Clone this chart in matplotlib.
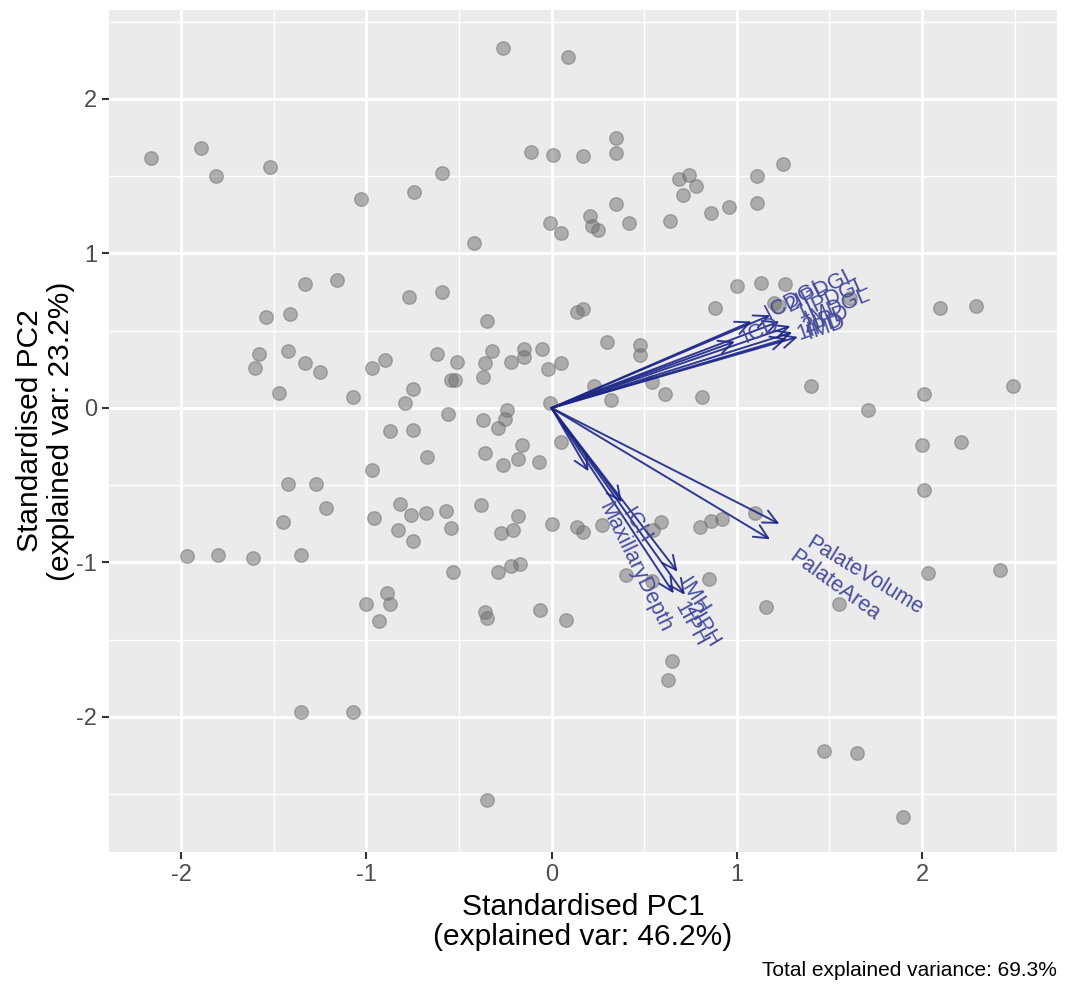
import matplotlib
matplotlib.use("Agg")
import matplotlib.pyplot as plt
import numpy as np

plt.rcParams["font.family"] = ["Liberation Sans", "DejaVu Sans"]
plt.rcParams["axes.unicode_minus"] = False

# ---- PCA scores (standardised PC1 / PC2) ----
pc1 = [-2.16, -1.89, -1.81, -1.52, -1.03, -0.74, -1.33, -1.16, -0.77, -1.54,
       -1.41, -1.58, -1.60, -1.42, -1.33, -1.25, -0.97, -0.90, -1.47, -1.07,
       -0.75, -0.79, -0.87, -0.75, -0.67, -0.97, -1.42, -1.27, -1.22, -1.45,
       -0.82, -0.96, -0.76, -0.68, -0.83, -0.75, -1.97, -1.80, -1.61, -1.35,
       -0.89, -1.00, -0.87, -0.93, -1.35, -1.07,
       -0.26, 0.09, 0.35, -0.11, 0.01, 0.17, 0.35, -0.59, 0.69, 0.74,
       0.78, 0.71, 0.86, 0.96, 0.35, -0.01, 0.05, 0.21, 0.22, 0.25,
       0.42, 0.64, -0.42, 1.00, -0.59, 0.88, 0.14, 0.17, -0.35, 0.30,
       0.48, 0.48, -0.62, -0.51, -0.32, -0.36, -0.22, -0.15, -0.15, -0.05,
       -0.02, 0.05, -0.54, -0.52, -0.37, 0.23, 0.54, 0.61, 0.81, 0.32,
       -0.01, -0.56, -0.37, -0.24, -0.25, -0.29, 0.05, -0.16, -0.18, -0.36,
       -0.26, -0.07, -0.57, -0.54, -0.38, -0.18, -0.27, -0.21, 0.00, 0.14,
       0.17, 0.27, 0.55, 0.59, 0.80, 0.86, 0.92, -0.53, -0.29, -0.22,
       -0.17, 0.40, 0.54, 0.85, -0.36, -0.35, -0.06, 0.08, 0.65, 0.63,
       -0.35,
       1.25, 1.11, 1.11, 1.13, 1.26, 1.20, 1.23, 1.61, 2.10, 2.29,
       1.40, 2.01, 1.71, 2.49, 2.00, 2.21, 2.01, 1.10, 1.16, 1.55,
       2.03, 2.42, 1.47, 1.65, 1.90]
pc2 = [1.62, 1.68, 1.50, 1.56, 1.35, 1.40, 0.80, 0.83, 0.72, 0.59,
       0.61, 0.35, 0.26, 0.37, 0.29, 0.23, 0.26, 0.31, 0.10, 0.07,
       0.12, 0.03, -0.15, -0.14, -0.32, -0.40, -0.49, -0.49, -0.65, -0.74,
       -0.62, -0.71, -0.69, -0.68, -0.79, -0.86, -0.96, -0.95, -0.97, -0.95,
       -1.20, -1.27, -1.27, -1.38, -1.97, -1.97,
       2.33, 2.27, 1.75, 1.66, 1.64, 1.63, 1.65, 1.52, 1.48, 1.51,
       1.44, 1.38, 1.26, 1.30, 1.32, 1.20, 1.13, 1.24, 1.18, 1.15,
       1.20, 1.21, 1.07, 0.79, 0.75, 0.65, 0.62, 0.64, 0.56, 0.43,
       0.41, 0.34, 0.35, 0.30, 0.37, 0.29, 0.30, 0.38, 0.33, 0.38,
       0.25, 0.29, 0.18, 0.18, 0.20, 0.14, 0.17, 0.09, 0.07, 0.05,
       0.03, -0.04, -0.08, -0.01, -0.07, -0.13, -0.22, -0.24, -0.33, -0.29,
       -0.37, -0.35, -0.67, -0.78, -0.63, -0.70, -0.81, -0.79, -0.75, -0.77,
       -0.80, -0.76, -0.79, -0.74, -0.77, -0.73, -0.72, -1.06, -1.06, -1.02,
       -1.01, -1.08, -1.12, -1.11, -1.32, -1.36, -1.31, -1.37, -1.64, -1.76,
       -2.54,
       1.58, 1.50, 1.33, 0.81, 0.80, 0.68, 0.66, 0.71, 0.65, 0.66,
       0.14, 0.09, -0.01, 0.14, -0.24, -0.22, -0.53, -0.68, -1.29, -1.27,
       -1.07, -1.05, -2.22, -2.23, -2.65]

# ---- variable loadings (arrows) ----
var_names = ["ICD", "ICDGL", "2IPDGL", "1IPDGL", "IMDGL", "2IPD", "1IPD", "IMD",
             "ICH", "IMH", "1IPH", "2IPH", "MaxillaryDepth",
             "PalateVolume", "PalateArea"]
load1 = [0.99, 1.08, 1.18, 1.23, 1.29, 1.30, 1.27, 1.33,
         0.38, 0.68, 0.66, 0.72, 0.20,
         1.23, 1.18]
load2 = [0.43, 0.56, 0.60, 0.56, 0.53, 0.49, 0.45, 0.46,
         -0.61, -1.06, -1.20, -1.21, -0.41,
         -0.75, -0.85]

x_ticks = [-2, -1, 0, 1, 2]
y_ticks = [-2, -1, 0, 1, 2]
x_title = ["Standardised PC1", "(explained var: 46.2%)"]
y_title = ["Standardised PC2", "(explained var: 23.2%)"]
caption = "Total explained variance: 69.3%"

W, H = 1073, 984
fig = plt.figure(figsize=(W / 100, H / 100), dpi=100)
L, R, T, B = 109, 1057, 10, 852
ax = fig.add_axes([L / W, 1 - B / H, (R - L) / W, (B - T) / H])
ax.set_facecolor("#EBEBEB")
for s in ax.spines.values():
    s.set_visible(False)

ax.set_xlim(-2.389, 2.729)
ax.set_ylim(-2.874, 2.576)
ax.set_xticks(x_ticks)
ax.set_yticks(y_ticks)
ax.set_xticklabels([str(v) for v in x_ticks])
ax.set_yticklabels([str(v) for v in y_ticks])
ax.set_xticks([-1.5, -0.5, 0.5, 1.5, 2.5], minor=True)
ax.set_yticks([-2.5, -1.5, -0.5, 0.5, 1.5, 2.5], minor=True)
ax.grid(which="major", color="white", lw=2.1, zorder=0)
ax.grid(which="minor", color="white", lw=1.0, zorder=0)
ax.set_axisbelow(True)
ax.tick_params(which="major", length=5, width=1.5, color="#333333",
               labelcolor="#4D4D4D", labelsize=17, pad=3.5)
ax.tick_params(which="minor", length=0)

ax.scatter(pc1, pc2, s=95, c="#6e6e6e", alpha=0.5, edgecolors="#6e6e6e",
           linewidths=1.0, zorder=3)

arrow_col = "#1c2687"
label_col = "#464c9c"
for lx, ly in zip(load1, load2):
    ax.annotate("", xy=(lx, ly), xytext=(0, 0),
                arrowprops=dict(arrowstyle="->,head_length=0.5,head_width=0.24",
                                color=arrow_col, lw=1.4, shrinkA=0, shrinkB=0,
                                mutation_scale=20, alpha=0.9),
                zorder=4)

fig.canvas.draw()
renderer = fig.canvas.get_renderer()
lab_size = 15.5
for name, lx, ly in zip(var_names, load1, load2):
    tmp = ax.text(0, 0, name, fontsize=lab_size)
    w = tmp.get_window_extent(renderer).width
    tmp.remove()
    ang = np.degrees(np.arctan2(ly, lx))
    off = 0.25 * w
    ax.annotate(name, xy=(lx, ly),
                xytext=(off * np.cos(np.radians(ang)), off * np.sin(np.radians(ang))),
                textcoords="offset pixels", rotation=ang, rotation_mode="anchor",
                ha="left", va="center", fontsize=lab_size, color=label_col,
                zorder=5)

cx = (L + R) / 2
fig.text(cx / W, 1 - 907 / H, x_title[0], ha="center", va="center", fontsize=21.5, color="black")
fig.text(cx / W, 1 - 937 / H, x_title[1], ha="center", va="center", fontsize=21.5, color="black")
cy = (T + B) / 2
fig.text(30 / W, 1 - cy / H, y_title[0], ha="center", va="center", rotation=90, fontsize=21.5, color="black")
fig.text(61 / W, 1 - cy / H, y_title[1], ha="center", va="center", rotation=90, fontsize=21.5, color="black")
fig.text(R / W, 1 - 971 / H, caption, ha="right", va="center", fontsize=15, color="black")

fig.savefig("out.png", dpi=100, facecolor="white")
